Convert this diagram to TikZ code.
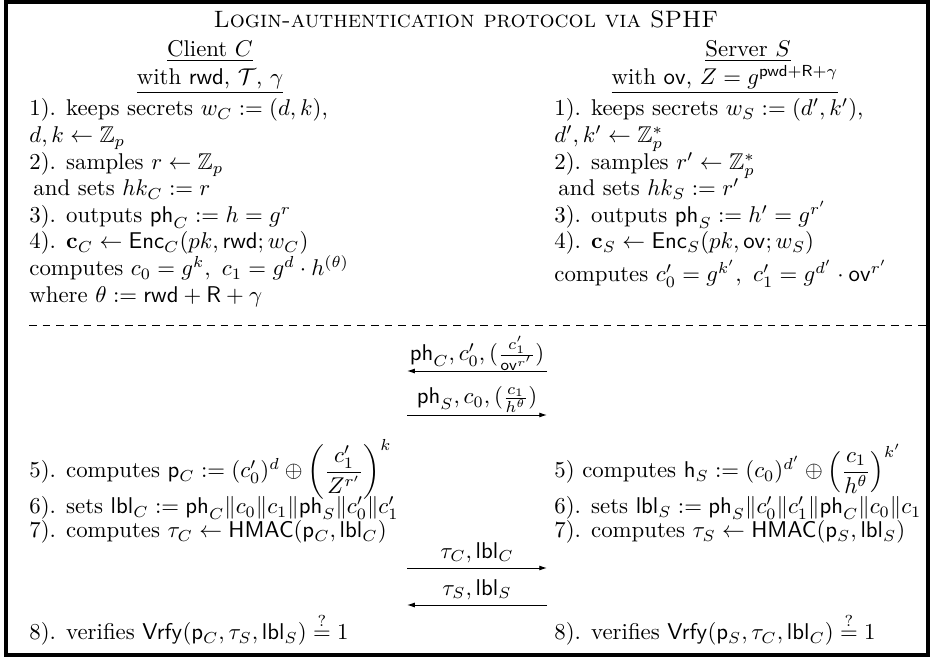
\documentclass[tikz,border=0pt]{standalone}
\usepackage{amsmath,amssymb}
\usetikzlibrary{arrows.meta}
\begin{document}
\begin{tikzpicture}[x=0.4386pt,y=-0.4386pt,
  txt/.style={anchor=mid west, inner sep=0pt},
  ctr/.style={anchor=mid, inner sep=0pt},
  lbl/.style={anchor=base, inner sep=0pt},
  msg/.style={line width=0.42pt, -{Latex[length=3.4pt,width=2.2pt]}},
  sep/.style={dash pattern=on 3.4pt off 2.6pt, line width=0.42pt},
  frame/.style={line width=1.7pt}]
\useasboundingbox (0,0) rectangle (933,660);
\draw[frame] (6,2) rectangle (928,655);
% header
\node[ctr] (title) at (466,23) {\fontsize{10.4}{12}\selectfont\textsc{Login-authentication protocol via SPHF}};
\node[ctr] (client) at (210,52) {\underline{Client $C$}};
\node[ctr] (cwith) at (210,80) {\underline{with $\mathsf{rwd}$, $\mathcal{T}$, $\gamma$}};
\node[ctr] (server) at (748,52) {\underline{Server $S$}};
\node[ctr] (swith) at (725,80) {\underline{with $\mathsf{ov}$, $Z=g^{\mathsf{pwd}+\mathsf{R}+\gamma}$}};
% client upper
\node[txt] (c1) at (29,111) {1). keeps secrets $w_C:=(d,k)$,};
\node[txt] (c2) at (29,138) {$d,k\leftarrow\mathbb{Z}_p$};
\node[txt] (c3) at (29,165) {2). samples $r\leftarrow\mathbb{Z}_p$};
\node[txt] (c4) at (33,191) {and sets $hk_C:=r$};
\node[txt] (c5) at (29,218) {3). outputs $\mathsf{ph}_C:=h=g^r$};
\node[txt] (c6) at (29,244) {4). $\mathbf{c}_C\leftarrow\mathsf{Enc}_C(pk,\mathsf{rwd};w_C)$};
\node[txt] (c7) at (29,271) {computes $c_0=g^k,\ c_1=g^d\cdot h^{(\theta)}$};
\node[txt] (c8) at (29,298) {where $\theta:=\mathsf{rwd}+\mathsf{R}+\gamma$};
% server upper
\node[txt] (s1) at (554,111) {1). keeps secrets $w_S:=(d',k')$,};
\node[txt] (s2) at (554,138) {$d',k'\leftarrow\mathbb{Z}_p^*$};
\node[txt] (s3) at (554,165) {2). samples $r'\leftarrow\mathbb{Z}_p^*$};
\node[txt] (s4) at (558,191) {and sets $hk_S:=r'$};
\node[txt] (s5) at (554,218) {3). outputs $\mathsf{ph}_S:=h'=g^{r'}$};
\node[txt] (s6) at (554,244) {4). $\mathbf{c}_S\leftarrow\mathsf{Enc}_S(pk,\mathsf{ov};w_S)$};
\node[txt] (s7) at (554,277) {computes $c_0'=g^{k'},\ c_1'=g^{d'}\cdot\mathsf{ov}^{r'}$};
% separator
\coordinate (dl) at (29,325);
\coordinate (dr) at (928,325);
\draw[sep] (dl) -- (dr);
% first messages
\node[lbl] (m1) at (477,361) {$\mathsf{ph}_C,c_0',(\frac{c_1'}{\mathsf{ov}^{r'}})$};
\coordinate (m1l) at (407,371);
\coordinate (m1r) at (547,371);
\draw[msg] (m1r) -- (m1l);
\node[lbl] (m2) at (477,404) {$\mathsf{ph}_S,c_0,(\frac{c_1}{h^{\theta}})$};
\coordinate (m2l) at (407,415);
\coordinate (m2r) at (547,415);
\draw[msg] (m2l) -- (m2r);
% lower rows
\node[txt] (c9) at (29,473) {5). computes $\mathsf{p}_C:=(c_0')^d\oplus\left(\dfrac{c_1'}{Z^{r'}}\right)^{k}$};
\node[txt] (c10) at (29,509) {6). sets $\mathsf{lbl}_C:=\mathsf{ph}_C\|c_0\|c_1\|\mathsf{ph}_S\|c_0'\|c_1'$};
\node[txt] (c11) at (29,533) {7). computes $\tau_C\leftarrow\mathsf{HMAC}(\mathsf{p}_C,\mathsf{lbl}_C)$};
\node[txt] (s9) at (554,473) {5) computes $\mathsf{h}_S:=(c_0)^{d'}\oplus\left(\dfrac{c_1}{h^{\theta}}\right)^{k'}$};
\node[txt] (s10) at (554,509) {6). sets $\mathsf{lbl}_S:=\mathsf{ph}_S\|c_0'\|c_1'\|\mathsf{ph}_C\|c_0\|c_1$};
\node[txt] (s11) at (554,533) {7). computes $\tau_S\leftarrow\mathsf{HMAC}(\mathsf{p}_S,\mathsf{lbl}_S)$};
% second messages
\node[lbl] (m3) at (477,558) {$\tau_C,\mathsf{lbl}_C$};
\coordinate (m3l) at (407,568);
\coordinate (m3r) at (547,568);
\draw[msg] (m3l) -- (m3r);
\node[lbl] (m4) at (477,595) {$\tau_S,\mathsf{lbl}_S$};
\coordinate (m4l) at (407,605);
\coordinate (m4r) at (547,605);
\draw[msg] (m4r) -- (m4l);
% final
\node[txt] (c12) at (29,635) {8). verifies $\mathsf{Vrfy}(\mathsf{p}_C,\tau_S,\mathsf{lbl}_S)\stackrel{?}{=}1$};
\node[txt] (s12) at (554,635) {8). verifies $\mathsf{Vrfy}(\mathsf{p}_S,\tau_C,\mathsf{lbl}_C)\stackrel{?}{=}1$};
\end{tikzpicture}
\end{document}
